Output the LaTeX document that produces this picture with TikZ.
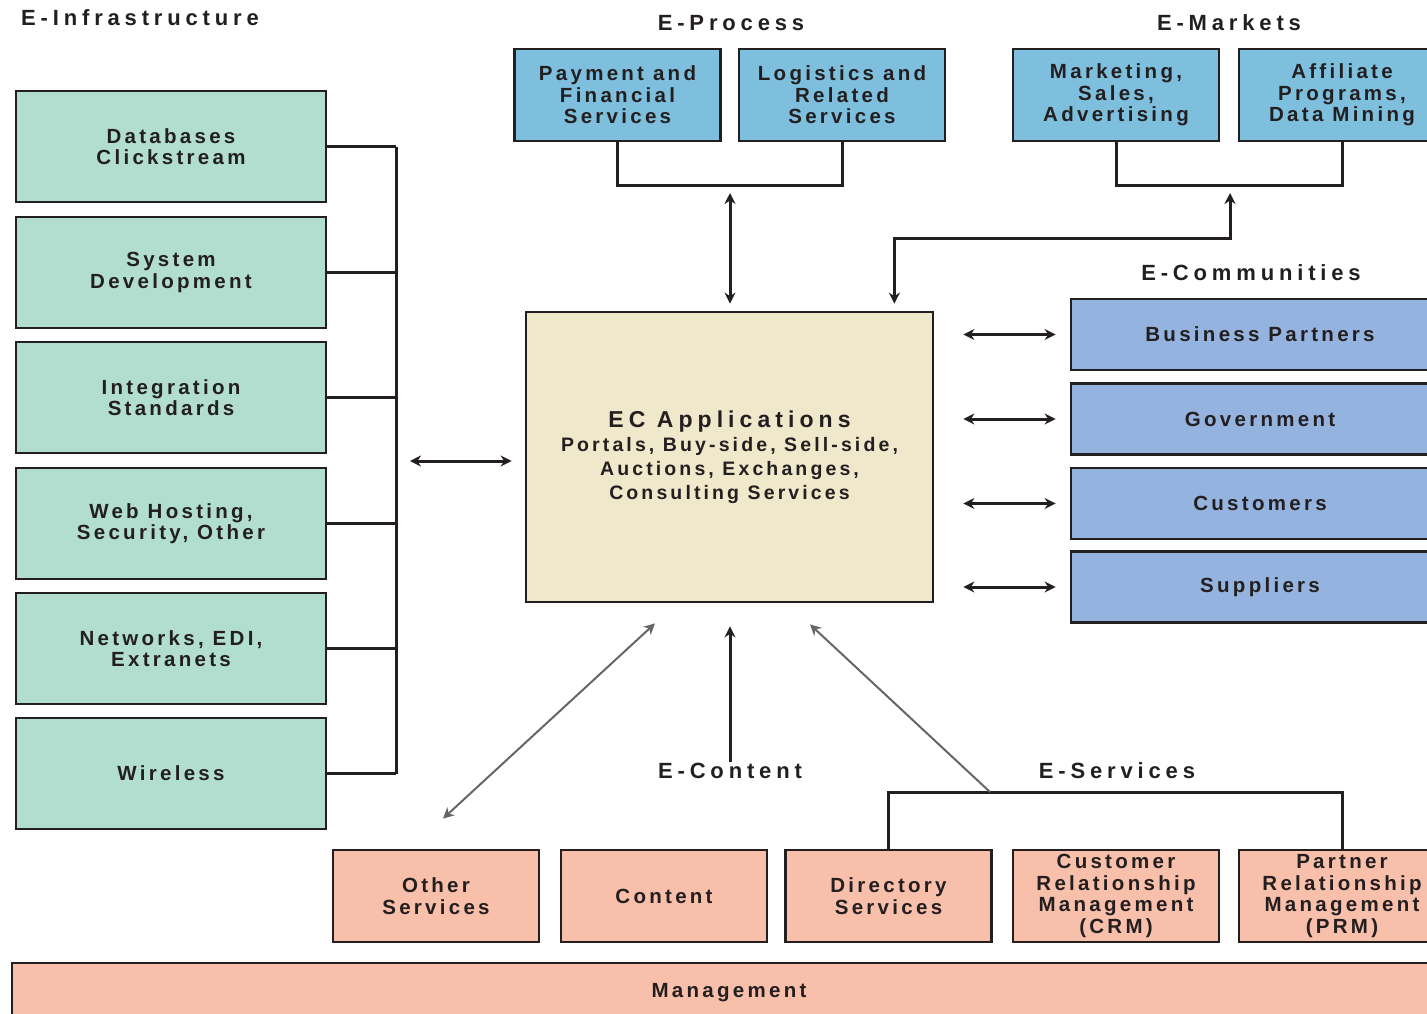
\documentclass[tikz,border=0pt]{standalone}
\usepackage{fontspec}
\setmainfont{Liberation Sans}
\newfontfamily\boxfont{Liberation Sans}[LetterSpace=16]
\newfontfamily\headfont{Liberation Sans}[LetterSpace=22]
\usetikzlibrary{arrows.meta,positioning,calc}
\definecolor{infragreen}{RGB}{178,222,208}
\definecolor{procblue}{RGB}{125,191,221}
\definecolor{commblue}{RGB}{149,179,223}
\definecolor{appcream}{RGB}{240,232,203}
\definecolor{srvpink}{RGB}{248,191,170}
\definecolor{linedark}{RGB}{35,31,32}
\tikzset{
  % basic box
  box/.style={
    draw=linedark,
    line width=2.8pt,
    align=center,
    inner sep=2pt,
    text=linedark,
    font=\boxfont\bfseries\fontsize{20.5}{21.5}\selectfont
  },
  % left column (E-Infrastructure)
  infra/.style={box, fill=infragreen, minimum width=310pt, minimum height=111pt},
  % top row (E-Process, E-Markets)
  proc/.style={box, fill=procblue, minimum width=206pt, minimum height=92pt},
  % right column (E-Communities)
  comm/.style={box, fill=commblue, minimum width=378pt, minimum height=71pt},
  % bottom row (E-Content, E-Services)
  srv/.style={box, fill=srvpink, minimum width=206pt, minimum height=92pt},
  % group headings
  hd/.style={inner sep=1pt, text=linedark,
    font=\headfont\bfseries\fontsize{22}{24}\selectfont},
  % connectors
  bar/.style={line width=3pt, draw=linedark},
  dbl/.style={bar, {Stealth[length=11pt, width=11pt]}-{Stealth[length=11pt, width=11pt]}},
  sgl/.style={bar, -{Stealth[length=11pt, width=11pt]}},
  diag/.style={line width=2pt, draw=black!60},
}

\begin{document}
\begin{tikzpicture}[x=1pt, y=-1pt,
        app/.style={box, fill=appcream, minimum width=407pt, minimum height=290pt,
          font=\boxfont\bfseries\fontsize{19.5}{24}\selectfont}
    ]
        \clip (0,0) rectangle (1427,1013);

        % E-Infrastructure
        \node[hd, anchor=west] (einfra) at (20,18) {E-Infrastructure};
        \node[infra] (db)    at (171,146.5) {Databases\\Clickstream};
        \node[infra] (sys)   at (171,272.5) {System\\Development};
        \node[infra] (integ) at (171,397.5) {Integration\\Standards};
        \node[infra] (web)   at (171,523.5) {Web Hosting,\\Security, Other};
        \node[infra] (net)   at (171,648.5) {Networks, EDI,\\Extranets};
        \node[infra] (wl)    at (171,773.5) {Wireless};

        \coordinate (infrabus) at (396,461);
        \foreach \n in {db,sys,integ,web,net,wl}
            \draw[bar] (\n.east) -- (\n.east -| infrabus);
        \draw[bar] (db.east -| infrabus) -- (wl.east -| infrabus);

        % EC Applications
        \node[app] (ecapp) at (729.5,457) {{\headfont\bfseries\fontsize{23}{26}\selectfont EC Applications}\\
            Portals, Buy-side, Sell-side,\\Auctions, Exchanges,\\Consulting Services};
        \draw[dbl, shorten <=14pt, shorten >=13pt] (infrabus) -- (infrabus -| ecapp.west);

        % E-Process
        \node[hd] (eproc) at (731,23) {E-Process};
        \node[proc] (pay)  at (617.5,95) {Payment and\\Financial\\Services};
        \node[proc] (logi) at (842,95) {Logistics and\\Related\\Services};
        \coordinate (procjoin) at (730,185);
        \draw[bar] (pay.south) |- (procjoin) -| (logi.south);
        \draw[dbl, shorten <=8pt, shorten >=7pt] (procjoin) -- (procjoin |- ecapp.north);

        % E-Markets
        \node[hd] (emkt) at (1229,23) {E-Markets};
        \node[proc] (mkt) at (1116,95) {Marketing,\\Sales,\\Advertising};
        \node[proc] (aff) at (1342,95) {Affiliate\\Programs,\\Data Mining};
        \coordinate (mktjoin) at (1230,185);
        \draw[bar] (mkt.south) |- (mktjoin) -| (aff.south);
        \draw[dbl, shorten <=8pt, shorten >=7pt] (mktjoin) -- ++(0,53) -| ([xshift=-40pt]ecapp.north east);

        % E-Communities
        \node[hd] (ecomm) at (1251,273) {E-Communities};
        \node[comm] (bp)   at (1260,334.5) {Business Partners};
        \node[comm] (gov)  at (1260,419) {Government};
        \node[comm] (cust) at (1260,503.5) {Customers};
        \node[comm] (supp) at (1260,587) {Suppliers};
        \foreach \c in {bp,gov,cust,supp}
            \draw[dbl, shorten <=29pt, shorten >=14pt] (\c.west -| ecapp.east) -- (\c.west);

        % E-Content
        \node[hd] (econt) at (730,771) {E-Content};
        \node[srv] (oth)  at (436,896) {Other\\Services};
        \node[srv] (cont) at (664,896) {Content};
        \draw[sgl, shorten >=23pt] (econt.north) -- (econt.north |- ecapp.south);
        \draw[diag, {Stealth[length=11pt, width=11pt]}-{Stealth[length=11pt, width=11pt]}]
            ([xshift=7pt, yshift=30pt]oth.north) -- ([xshift=-74.5pt, yshift=-20pt]ecapp.south);

        % E-Services
        \node[hd] (esrv) at (1117,771) {E-Services};
        \node[srv] (dir) at (888.5,896) {Directory\\Services};
        \node[srv] (crm) at (1116,896) {Customer\\Relationship\\Management\\(CRM)};
        \node[srv] (prm) at (1342,896) {Partner\\Relationship\\Management\\(PRM)};
        \coordinate (srvjoin) at (990,792);
        \draw[bar] (dir.north) |- (srvjoin) -| (prm.north);
        \draw[diag, -{Stealth[length=11pt, width=11pt]}]
            (srvjoin) -- ([xshift=80.5pt, yshift=-21pt]ecapp.south);

        % Management
        \node[srv, minimum width=1434pt, minimum height=60pt] (mgmt) at (729,993) {Management};
    \end{tikzpicture}
\end{document}
